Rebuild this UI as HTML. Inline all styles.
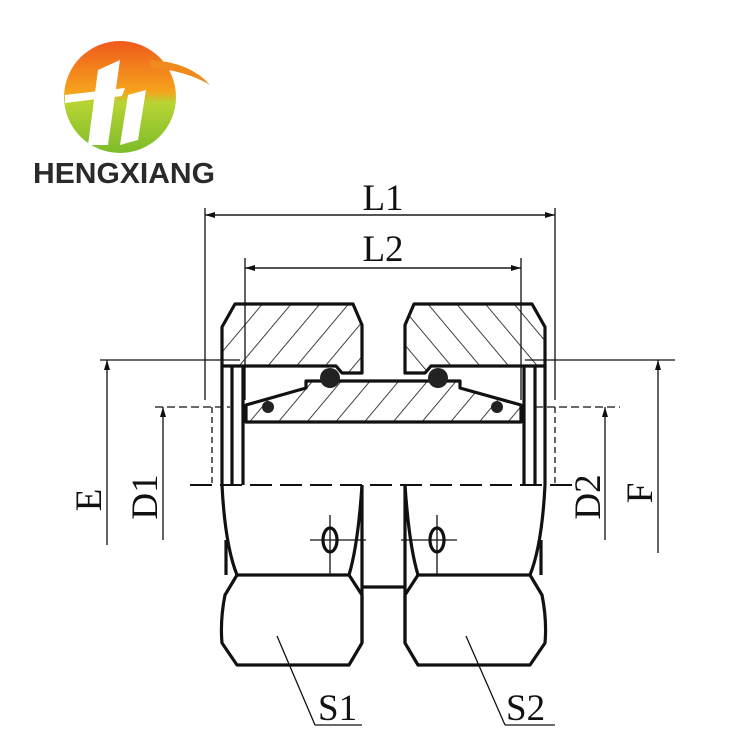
<!DOCTYPE html>
<html><head><style>body{margin:0;background:#fff}svg{display:block}</style></head><body>
<svg width="750" height="750" viewBox="0 0 750 750" xmlns="http://www.w3.org/2000/svg" font-family="Liberation Serif, serif">
<defs>
<linearGradient id="g" x1="0" y1="0" x2="0" y2="1"><stop offset="0" stop-color="#ef5a1c"/><stop offset="0.45" stop-color="#f6a21c"/><stop offset="0.55" stop-color="#b7d433"/><stop offset="1" stop-color="#7dbb2a"/></linearGradient>
<pattern id="h" width="22" height="22" patternUnits="userSpaceOnUse" patternTransform="rotate(40)"><line x1="0" y1="0" x2="0" y2="22" stroke="#111" stroke-width="1.6"/></pattern>
<pattern id="h2" width="22" height="22" patternUnits="userSpaceOnUse" patternTransform="rotate(-40)"><line x1="0" y1="0" x2="0" y2="22" stroke="#111" stroke-width="1.6"/></pattern>
<marker id="a" markerWidth="10" markerHeight="6" refX="10" refY="3" orient="auto" markerUnits="userSpaceOnUse"><path d="M0,0 L10,3 L0,6 z" fill="#111"/></marker>
</defs>
<circle cx="120" cy="97" r="56" fill="url(#g)"/>
<path d="M150,60 Q190,62 210,85 Q185,70 150,68 z" fill="#f08a1c"/>
<path d="M65,95 L125,88 L122,96 L65,103 z" fill="#fff"/>
<path d="M98,70 L120,60 L108,145 L88,145 z" fill="#fff"/>
<path d="M128,95 L146,90 L138,140 L120,145 z" fill="#fff"/>
<text x="33" y="183" font-family="Liberation Sans, sans-serif" font-weight="bold" font-size="29" fill="#2a2a2a" textLength="182" lengthAdjust="spacingAndGlyphs">HENGXIANG</text>
<g stroke="#111" fill="none" stroke-width="1.3">
<line x1="205" y1="208" x2="205" y2="400"/><line x1="555" y1="208" x2="555" y2="400"/>
<line x1="205" y1="215" x2="555" y2="215" marker-end="url(#a)"/><line x1="555" y1="215" x2="205" y2="215" marker-end="url(#a)"/>
<line x1="245" y1="258" x2="245" y2="400"/><line x1="521" y1="258" x2="521" y2="400"/>
<line x1="245" y1="268" x2="521" y2="268" marker-end="url(#a)"/><line x1="521" y1="268" x2="245" y2="268" marker-end="url(#a)"/>
<line x1="100" y1="360" x2="240" y2="360"/><line x1="107" y1="545" x2="107" y2="360" marker-end="url(#a)"/>
<line x1="155" y1="407" x2="230" y2="407" stroke-dasharray="8,4"/><line x1="163" y1="540" x2="163" y2="407" marker-end="url(#a)"/>
<line x1="525" y1="360" x2="675" y2="360"/><line x1="658" y1="553" x2="658" y2="360" marker-end="url(#a)"/>
<line x1="535" y1="407" x2="620" y2="407" stroke-dasharray="8,4"/><line x1="605" y1="540" x2="605" y2="407" marker-end="url(#a)"/>
<line x1="212" y1="407" x2="212" y2="485" stroke-dasharray="6,4"/><line x1="555" y1="407" x2="555" y2="485" stroke-dasharray="6,4"/>
<line x1="190" y1="485" x2="575" y2="485" stroke-dasharray="22,8" stroke-width="2"/>
<line x1="277" y1="636" x2="315" y2="725"/><line x1="315" y1="725" x2="362" y2="725"/>
<line x1="466" y1="636" x2="505" y2="725"/><line x1="505" y1="725" x2="555" y2="725"/>
<line x1="310" y1="540" x2="366" y2="540"/><line x1="330" y1="515" x2="330" y2="575"/>
<line x1="401" y1="540" x2="457" y2="540"/><line x1="437" y1="515" x2="437" y2="575"/>
</g>
<g stroke="#111" stroke-width="3.2" stroke-linejoin="round">
<path d="M235,304 L353,304 L362,325 L362,373 L342,373 L336,366 L222,366 L222,327 z" fill="url(#h)"/>
<path d="M532,304 L414,304 L405,325 L405,373 L425,373 L431,366 L545,366 L545,327 z" fill="url(#h2)"/>
<path d="M306,381 L460,381 L460,388 L521,405 L521,422 L246,422 L246,405 L306,388 z" fill="url(#h)"/>
<g fill="none">
<line x1="222" y1="366" x2="222" y2="485"/><line x1="232" y1="366" x2="232" y2="485"/><line x1="243" y1="366" x2="243" y2="485"/>
<line x1="545" y1="366" x2="545" y2="485"/><line x1="535" y1="366" x2="535" y2="485"/><line x1="524" y1="366" x2="524" y2="485"/>
<path d="M222,485 Q225,545 237,575 L349,575 Q358,545 362,485"/>
<line x1="226" y1="540" x2="226" y2="575"/>
<path d="M237,575 L225,595 Q220,620 222,643 L237,665 L349,665 L362,643 L362,595 L349,575"/>
<line x1="362" y1="485" x2="362" y2="643"/>
<path d="M545,485 Q542,545 530,575 L418,575 Q409,545 405,485"/>
<line x1="541" y1="540" x2="541" y2="575"/>
<path d="M530,575 L542,595 Q547,620 545,643 L530,665 L418,665 L405,643 L405,595 L418,575"/>
<line x1="405" y1="485" x2="405" y2="643"/>
<line x1="362" y1="587" x2="405" y2="587"/>
<ellipse cx="330" cy="540" rx="7" ry="12"/><ellipse cx="437" cy="540" rx="7" ry="12"/>
</g>
</g>
<circle cx="330" cy="378" r="10" fill="#222"/><circle cx="438" cy="378" r="10" fill="#222"/>
<circle cx="268" cy="407" r="6" fill="#222"/><circle cx="497" cy="407" r="6" fill="#222"/>
<g fill="#111" font-size="37">
<text x="383" y="210" text-anchor="middle">L1</text>
<text x="383" y="261" text-anchor="middle">L2</text>
<text x="318" y="720">S1</text>
<text x="506" y="720">S2</text>
<text transform="translate(101,500) rotate(-90)" text-anchor="middle">E</text>
<text transform="translate(157,497) rotate(-90)" text-anchor="middle">D1</text>
<text transform="translate(600,497) rotate(-90)" text-anchor="middle">D2</text>
<text transform="translate(652,493) rotate(-90)" text-anchor="middle">F</text>
</g>
</svg>
</body></html>
